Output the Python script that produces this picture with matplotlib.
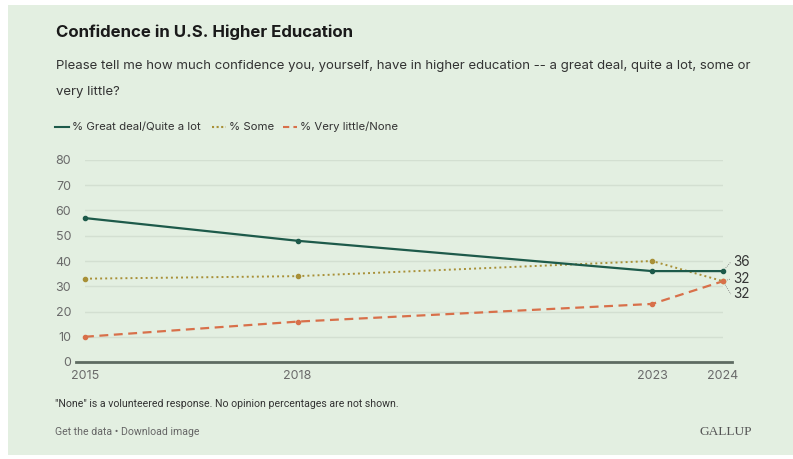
import numpy as np
from matplotlib import pyplot as plt
from matplotlib.patches import Rectangle

years = [2015, 2018, 2023, 2024]
great_deal = [57, 48, 36, 36]
some = [33, 34, 40, 32]
very_little = [10, 16, 23, 32]
yticks = [0, 10, 20, 30, 40, 50, 60, 70, 80]

BG = '#e3efe1'
C_GREAT = '#1d5a4a'
C_SOME = '#a89037'
C_LITTLE = '#d8704a'
TXT = '#333333'
GREY = '#666666'

plt.rcParams['font.family'] = ['Inter', 'DejaVu Sans']

fig = plt.figure(figsize=(7.93, 4.59), dpi=100)
fig.patch.set_facecolor('white')
fig.patches.append(Rectangle((8 / 793, 4 / 459), 1, 1 - 9 / 459, transform=fig.transFigure,
                             facecolor=BG, edgecolor='none', zorder=-10))

W, H = 793.0, 459.0
def fx(px): return px / W
def fy(py): return 1 - py / H

# axes: x 2015 -> px 85, 2024 -> px 723 ; y 0 -> px 362, 80 -> px 160
x0, x1 = 85, 723
y0, y1 = 362, 160
ax = fig.add_axes([fx(x0), fy(y0), (x1 - x0) / W, (y0 - y1) / H])
ax.set_facecolor('none')
ax.set_xlim(2015, 2024)
ax.set_ylim(0, 80)
for s in ax.spines.values():
    s.set_visible(False)
ax.set_yticks(yticks)
ax.set_xticks(years)
ax.tick_params(length=0, labelsize=9, colors='#6a6a6a')
ax.tick_params(axis='y', pad=10)
ax.tick_params(axis='x', pad=6)
for v in yticks[1:]:
    ax.axhline(v, color='#d3dfd1', lw=1, zorder=0)
ax.plot([2014.88, 2024.13], [0, 0], color='#5e6b62', lw=2, clip_on=False, zorder=1)

ax.plot(years, great_deal, color=C_GREAT, lw=1.6, marker='o', ms=3, clip_on=False, zorder=4)
ax.plot(years, some, color=C_SOME, lw=1.4, ls=(0, (1, 1.6)), marker='o', ms=3, clip_on=False, zorder=3)
ax.plot(years, very_little, color=C_LITTLE, lw=1.6, ls=(0, (4, 2.5)), marker='o', ms=3, clip_on=False, zorder=3)

# end labels
lab_y = [39.6, 32.9, 26.9]
vals = [great_deal[-1], very_little[-1], some[-1]]
cols = [C_GREAT, C_LITTLE, C_SOME]
for ly, v, c in zip(lab_y, vals, cols):
    ax.text(2024.14, ly, str(v), fontsize=9.8, color=TXT, va='center', ha='left')
    ax.plot([2024, 2024.11], [v, ly], color='#777777', lw=0.6, ls=(0, (1, 1.5)), clip_on=False)

fig.text(fx(56), fy(32), 'Confidence in U.S. Higher Education', fontsize=12.1,
         fontweight='bold', color='#1a1a1a', va='center')
fig.text(fx(56), fy(66), 'Please tell me how much confidence you, yourself, have in higher education -- a great deal, quite a lot, some or',
         fontsize=9.5, color=TXT, va='center')
fig.text(fx(56), fy(92), 'very little?', fontsize=9.5, color=TXT, va='center')

# legend
ly = fy(127)
items = [('% Great deal/Quite a lot', C_GREAT, '-'), ('% Some', C_SOME, (0, (1, 1.2))),
         ('% Very little/None', C_LITTLE, (0, (3, 2)))]
xs = [55, 212, 283]
for (lab, c, ls), xp in zip(items, xs):
    fig.add_artist(plt.Line2D([fx(xp), fx(xp + 14)], [ly, ly], color=c, lw=1.5, ls=ls))
    fig.text(fx(xp + 17), ly, lab, fontsize=8.2, color=TXT, va='center')

foot_font = ['Roboto', 'DejaVu Sans']
fig.text(fx(55), fy(404), '"None" is a volunteered response. No opinion percentages are not shown.',
         fontsize=7.6, color=TXT, va='center', family=foot_font)
fig.text(fx(55), fy(432), 'Get the data \u2022 Download image', fontsize=7.6, color=GREY,
         va='center', family=foot_font)
fig.text(fx(752), fy(432), 'GALLUP', fontsize=9.6, color='#555555', va='center', ha='right',
         family=['Liberation Serif', 'DejaVu Serif'])

fig.savefig('out.png', dpi=100)
